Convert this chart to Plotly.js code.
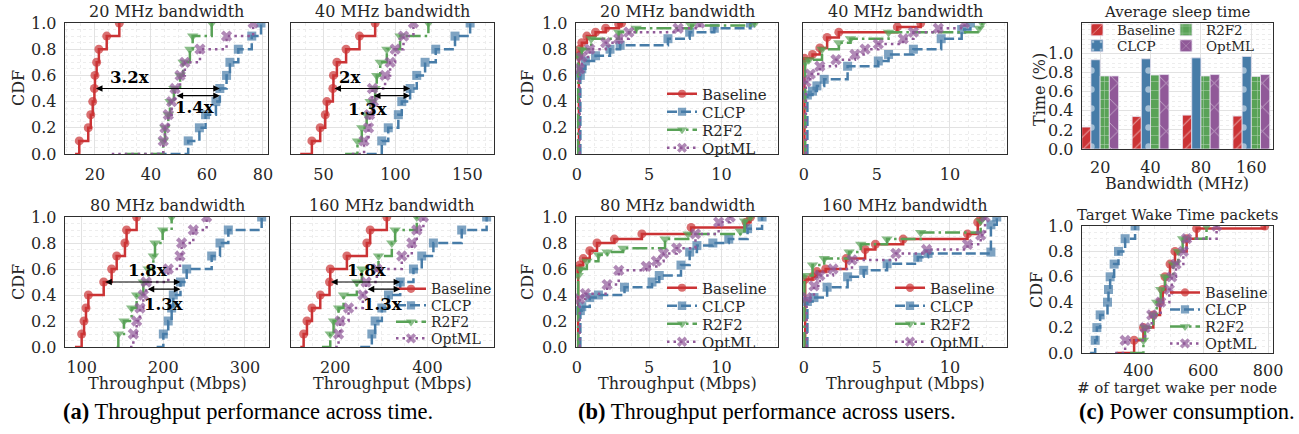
<!DOCTYPE html>
<html><head><meta charset="utf-8">
<script src="https://cdn.plot.ly/plotly-3.0.1.min.js"></script>
<style>html,body{margin:0;padding:0;background:#fff}#chart{width:1299px;height:434px}</style>
</head><body><div id="chart"></div><script>
// ---------- data ----------
const methods = ['Baseline', 'CLCP', 'R2F2', 'OptML'];
const cdfLevels = [0, 0.1, 0.2, 0.3, 0.4, 0.5, 0.6, 0.7, 0.8, 0.9, 1.0];

// (a) throughput across time (Mbps) at each CDF level
const a20Baseline = [12.9, 14.4, 17.6, 18.5, 19.2, 19.8, 20.0, 20.6, 21.4, 24.2, 28.7];
const a20CLCP     = [42.0, 53.3, 57.3, 59.5, 63.2, 64.6, 67.0, 68.2, 71.2, 76.0, 79.3];
const a20R2F2     = [30.7, 44.4, 45.0, 46.2, 46.8, 48.2, 50.4, 51.5, 53.9, 54.9, 61.7];
const a20OptML    = [26.0, 44.4, 45.0, 46.2, 47.4, 48.6, 50.4, 52.1, 57.5, 67.0, 76.5];

const a40Baseline = [33.8, 41.9, 47.7, 51.2, 52.3, 56.5, 56.9, 59.3, 65.7, 75.0, 85.9];
const a40CLCP     = [80.0, 90.5, 95.0, 102.0, 104.4, 110.2, 114.8, 120.6, 128.0, 141.4, 151.9];
const a40R2F2     = [65.0, 73.6, 76.6, 80.0, 82.4, 85.9, 87.0, 89.4, 94.0, 103.2, 122.9];
const a40OptML    = [69.7, 78.2, 81.3, 82.0, 84.7, 84.0, 92.8, 96.3, 99.8, 105.6, 112.5];

const a80Baseline = [91.8, 100.0, 102.9, 105.3, 108.2, 127.0, 136.7, 142.9, 153.0, 155.0, 167.3];
const a80CLCP     = [191.8, 200.0, 206.0, 210.2, 212.2, 221.0, 228.6, 259.2, 269.4, 279.6, 320.4];
const a80R2F2     = [142.9, 144.9, 151.8, 161.2, 167.3, 175.5, 181.6, 187.8, 189.8, 199.2, 210.2];
const a80OptML    = [159.2, 163.3, 167.3, 171.4, 175.5, 179.0, 206.1, 220.4, 222.4, 236.7, 253.0];

const a160Baseline = [124.2, 131.4, 138.6, 149.5, 167.5, 187.6, 189.2, 225.3, 268.6, 275.8, 311.9];
const a160CLCP     = [254.2, 279.4, 286.6, 301.1, 315.5, 341.0, 369.7, 387.7, 413.0, 474.4, 528.5];
const a160R2F2     = [171.1, 189.2, 196.4, 207.2, 218.1, 246.9, 257.8, 293.9, 322.7, 330.0, 376.9];
const a160OptML    = [200.0, 207.2, 210.8, 228.9, 259.9, 267.0, 290.3, 344.4, 366.1, 376.9, 391.3];

// (b) throughput across users (Mbps): x values and CDF values
const b20BaselineX = [0.15, 0.15, 0.2, 0.35, 0.7, 1.3, 2.0, 2.9, 3.1];
const b20BaselineY = [0, 0.75, 0.8, 0.85, 0.9, 0.93, 0.96, 0.99, 1.0];
const b20CLCPX = [0.25, 0.25, 0.35, 0.6, 1.3, 2.3, 3.0, 6.3, 7.8, 9.5, 12.0];
const b20CLCPY = [0, 0.6, 0.65, 0.71, 0.75, 0.8, 0.83, 0.88, 0.93, 0.96, 1.0];
const b20R2F2X = [0.1, 0.1, 0.35, 1.0, 2.9, 4.1, 7.9, 12.3];
const b20R2F2Y = [0, 0.75, 0.8, 0.88, 0.93, 0.96, 0.98, 1.0];
const b20OptMLX = [0.2, 0.2, 0.35, 0.9, 2.0, 2.9, 3.6, 7.0, 8.5];
const b20OptMLY = [0, 0.65, 0.74, 0.8, 0.85, 0.88, 0.93, 0.96, 1.0];

const b40BaselineX = [0.05, 0.05, 0.6, 1.1, 1.6, 2.4, 6.4, 8.0];
const b40BaselineY = [0, 0.73, 0.76, 0.81, 0.89, 0.93, 0.97, 1.0];
const b40CLCPX = [0.25, 0.25, 0.6, 0.9, 1.4, 3.0, 5.1, 5.8, 7.5, 9.4, 10.8, 11.4];
const b40CLCPY = [0, 0.45, 0.48, 0.52, 0.57, 0.67, 0.71, 0.76, 0.8, 0.88, 0.95, 1.0];
const b40R2F2X = [0.1, 0.1, 0.35, 1.25, 2.4, 3.2, 5.8, 12.0, 12.2];
const b40R2F2Y = [0, 0.7, 0.72, 0.8, 0.85, 0.88, 0.93, 0.96, 1.0];
const b40OptMLX = [0.15, 0.15, 0.45, 1.1, 2.2, 3.5, 4.2, 5.1, 6.8, 7.5, 9.2, 11.0];
const b40OptMLY = [0, 0.55, 0.61, 0.67, 0.72, 0.76, 0.8, 0.84, 0.88, 0.93, 0.96, 1.0];

const b80BaselineX = [0.1, 0.1, 0.2, 0.45, 0.9, 1.4, 2.6, 4.5, 7.9, 11.7, 12.0];
const b80BaselineY = [0, 0.6, 0.63, 0.68, 0.74, 0.8, 0.83, 0.87, 0.92, 0.96, 1.0];
const b80CLCPX = [0.25, 0.25, 0.35, 0.9, 1.5, 3.3, 5.2, 5.7, 7.2, 7.8, 8.3, 9.4, 10.5, 11.8, 12.8];
const b80CLCPY = [0, 0.28, 0.31, 0.38, 0.4, 0.46, 0.5, 0.55, 0.63, 0.73, 0.78, 0.8, 0.83, 0.91, 1.0];
const b80R2F2X = [0.1, 0.1, 0.25, 0.7, 1.5, 2.1, 3.2, 6.1, 7.7, 11.3, 11.6, 12.0];
const b80R2F2Y = [0, 0.55, 0.6, 0.66, 0.71, 0.73, 0.76, 0.83, 0.87, 0.89, 0.97, 1.0];
const b80OptMLX = [0.2, 0.2, 0.6, 2.1, 2.9, 4.8, 5.5, 6.0, 6.9, 8.2, 9.8, 10.6];
const b80OptMLY = [0, 0.37, 0.41, 0.48, 0.59, 0.62, 0.66, 0.72, 0.76, 0.87, 0.96, 1.0];

const b160BaselineX = [0.1, 0.1, 0.6, 0.9, 1.5, 2.9, 4.2, 4.9, 6.8, 11.2, 11.9, 12.1];
const b160BaselineY = [0, 0.52, 0.54, 0.58, 0.6, 0.68, 0.75, 0.79, 0.83, 0.87, 0.96, 1.0];
const b160CLCPX = [0.25, 0.25, 0.7, 1.6, 3.0, 4.1, 5.7, 7.8, 8.5, 12.8, 12.8, 13.2];
const b160CLCPY = [0, 0.35, 0.38, 0.46, 0.54, 0.59, 0.64, 0.69, 0.72, 0.73, 0.94, 1.0];
const b160R2F2X = [0.05, 0.05, 0.6, 1.4, 3.1, 3.9, 5.7, 8.0, 12.1, 12.3];
const b160R2F2Y = [0, 0.55, 0.63, 0.68, 0.73, 0.79, 0.83, 0.88, 0.97, 1.0];
const b160OptMLX = [0.2, 0.2, 0.7, 1.1, 2.0, 3.3, 6.3, 8.4, 11.2, 12.1, 12.4];
const b160OptMLY = [0, 0.38, 0.47, 0.55, 0.6, 0.67, 0.72, 0.75, 0.79, 0.86, 1.0];

// (c) average sleep time per bandwidth
const bandwidths = ['20', '40', '80', '160'];
const sleepBaseline = [0.23, 0.34, 0.355, 0.345];
const sleepCLCP     = [0.935, 0.945, 0.955, 0.97];
const sleepR2F2     = [0.765, 0.775, 0.765, 0.76];
const sleepOptML    = [0.765, 0.78, 0.78, 0.78];

// (c) target wake time packets per node
const twtBaselineX = [333, 386.7, 415.4, 446, 466.7, 474.9, 482, 497.4, 512.8, 548.7, 579.5, 789.7];
const twtBaselineY = [0, 0.1, 0.2, 0.3, 0.4, 0.5, 0.6, 0.7, 0.8, 0.9, 0.98, 1.0];
const twtCLCP  = [251, 266.7, 271.8, 282, 304.6, 307.7, 312.8, 325.1, 338.5, 359, 389.7];
const twtR2F2  = [374.4, 415.4, 420.5, 446, 456.4, 468.7, 482, 507.7, 523, 536.4, 610];
const twtOptML = [328.2, 359, 420.5, 441, 468.7, 495.4, 502.6, 515.9, 538.5, 548.7, 641];

// gain labels for (a)
const gainTop = ['3.2x', '2x', '1.8x', '1.8x'];
const gainBottom = ['1.4x', '1.3x', '1.3x', '1.3x'];

// ---------- style ----------
const W = 1299, H = 434;
const FONT = 'DejaVu Serif';
const TXT = '#262626';
const colors = ['#cb3335', '#477ca8', '#59a257', '#905998'];
const symbols = ['circle', 'square', 'triangle-down', 'x'];
const dashes = ['solid', '10px,4px', '15px,4px,2.5px,4px', '2.5px,4px'];
const msize = [9, 9, 10, 10];

function xDom(a, b) { return [a / W, b / W]; }
function yDom(t, b) { return [1 - b / H, 1 - t / H]; }

// legends: one legend per entry so rows can sit as tightly as in the reference
const layoutLegends = {};
let legendCount = 0;
function newLegend(textLeftPx, midPx, size) {
  legendCount += 1;
  const id = legendCount === 1 ? 'legend' : 'legend' + legendCount;
  layoutLegends[id] = {
    x: (textLeftPx - 40) / W, y: 1 - midPx / H, xanchor: 'left', yanchor: 'middle',
    bgcolor: 'rgba(255,255,255,0)', borderwidth: 0, font: { family: FONT, size: size, color: TXT },
    itemwidth: 30, tracegroupgap: 0
  };
  return id;
}
function rows(center, gap) { return [-1.5, -0.5, 0.5, 1.5].map(f => center + f * gap); }

const traces = [];
function cdfTrace(k, mi, x, y, legendId) {
  const s = k === 1 ? '' : k;
  return {
    type: 'scatter', mode: 'lines+markers', name: methods[mi],
    x: x, y: y, xaxis: 'x' + s, yaxis: 'y' + s,
    line: { shape: 'hv', color: colors[mi], width: 2.5, dash: dashes[mi] },
    marker: { symbol: symbols[mi], color: colors[mi], size: x.map((v, i) => i === 0 ? 0 : msize[mi]), line: { width: 0 } },
    showlegend: !!legendId, legend: legendId || 'legend'
  };
}

const aSets = [
  [a20Baseline, a20CLCP, a20R2F2, a20OptML],
  [a40Baseline, a40CLCP, a40R2F2, a40OptML],
  [a80Baseline, a80CLCP, a80R2F2, a80OptML],
  [a160Baseline, a160CLCP, a160R2F2, a160OptML]
];
const aLegendRows = rows(314, 16.5);
aSets.forEach((set, p) => {
  set.forEach((vals, mi) => {
    const lid = p === 3 ? newLegend(431, aLegendRows[mi], 14) : null;
    traces.push(cdfTrace(p + 1, mi, vals, cdfLevels, lid));
  });
});

const bSets = [
  [[b20BaselineX, b20BaselineY], [b20CLCPX, b20CLCPY], [b20R2F2X, b20R2F2Y], [b20OptMLX, b20OptMLY]],
  [[b40BaselineX, b40BaselineY], [b40CLCPX, b40CLCPY], [b40R2F2X, b40R2F2Y], [b40OptMLX, b40OptMLY]],
  [[b80BaselineX, b80BaselineY], [b80CLCPX, b80CLCPY], [b80R2F2X, b80R2F2Y], [b80OptMLX, b80OptMLY]],
  [[b160BaselineX, b160BaselineY], [b160CLCPX, b160CLCPY], [b160R2F2X, b160R2F2Y], [b160OptMLX, b160OptMLY]]
];
const bLegendPos = [
  { left: 702, rows: rows(121, 18) },
  null,
  { left: 702, rows: rows(315, 18) },
  { left: 930, rows: rows(315, 18) }
];
bSets.forEach((set, p) => {
  set.forEach((xy, mi) => {
    const lp = bLegendPos[p];
    const lid = lp ? newLegend(lp.left, lp.rows[mi], 15) : null;
    traces.push(cdfTrace(p + 5, mi, xy[0], xy[1], lid));
  });
});

// bars
const sleepSets = [sleepBaseline, sleepCLCP, sleepR2F2, sleepOptML];
const patShapes = ['/', '.', '+', 'x'];
const patSizes = [9, 19, 9, 17];
const patSolid = [0.12, 0.09, 0.12, 0.1];
const barLegendPos = [[1117, 30], [1117, 46], [1206, 30], [1206, 46]];
sleepSets.forEach((vals, mi) => {
  traces.push({
    type: 'bar', name: methods[mi], x: bandwidths, y: vals, xaxis: 'x9', yaxis: 'y9',
    marker: { color: colors[mi], line: { color: '#e6e0ee', width: 0.8 },
      pattern: { shape: patShapes[mi], fgcolor: '#ffffff', bgcolor: colors[mi], size: patSizes[mi], solidity: patSolid[mi], fillmode: 'overlay' } },
    legend: newLegend(barLegendPos[mi][0], barLegendPos[mi][1], 13.5), showlegend: true
  });
});

// twt cdf
const twtSets = [[twtBaselineX, twtBaselineY], [twtCLCP, cdfLevels], [twtR2F2, cdfLevels], [twtOptML, cdfLevels]];
const twtLegendRows = rows(318, 17);
twtSets.forEach((xy, mi) => traces.push(cdfTrace(10, mi, xy[0], xy[1], newLegend(1205, twtLegendRows[mi], 14.5))));

// ---------- axes ----------
const layout = Object.assign({
  width: W, height: H, margin: { l: 0, r: 0, t: 0, b: 0 },
  paper_bgcolor: '#fff', plot_bgcolor: '#fff', showlegend: true,
  font: { family: FONT, color: TXT, size: 16 },
  bargap: 0.27, bargroupgap: 0,
  annotations: []
}, layoutLegends);

const panels = [
  { k: 1, xd: [65, 268], yd: [23, 154], xr: [9.3, 81.8], xt: [20, 40, 60, 80], xm: 5, yl: true },
  { k: 2, xd: [291, 494], yd: [23, 154], xr: [27.4, 168.5], xt: [50, 100, 150], xm: 12.5, yl: false },
  { k: 3, xd: [65, 269], yd: [217, 347], xr: [79.6, 329.4], xt: [100, 200, 300], xm: 25, yl: true },
  { k: 4, xd: [291, 494], yd: [217, 347], xr: [104, 544.5], xt: [200, 400], xm: 50, yl: false },
  { k: 5, xd: [576, 778], yd: [23, 154], xr: [-0.05, 13.9], xt: [0, 5, 10], xm: 1.25, yl: true },
  { k: 6, xd: [803, 1007], yd: [23, 154], xr: [-0.05, 13.9], xt: [0, 5, 10], xm: 1.25, yl: false },
  { k: 7, xd: [576, 778], yd: [217, 347], xr: [-0.05, 13.9], xt: [0, 5, 10], xm: 1.25, yl: true },
  { k: 8, xd: [803, 1007], yd: [217, 347], xr: [-0.05, 13.9], xt: [0, 5, 10], xm: 1.25, yl: false },
  { k: 10, xd: [1082, 1273], yd: [226, 353], xr: [226, 815], xt: [400, 600, 800], xm: 50, yl: true, xs: 2 }
];
const gridCol = '#e2e2e2', minorCol = '#ededed', frameCol = '#2e2e2e';
function baseAxis() {
  return {
    showline: true, mirror: true, linecolor: frameCol, linewidth: 1.3, zeroline: false,
    ticks: '', showgrid: true, gridcolor: gridCol, gridwidth: 1,
    tickfont: { family: FONT, size: 16, color: TXT }, fixedrange: true
  };
}
const yTicks = [0, 0.2, 0.4, 0.6, 0.8, 1.0];
panels.forEach(p => {
  const sx = p.k === 1 ? '' : p.k;
  layout['xaxis' + sx] = Object.assign(baseAxis(), {
    domain: xDom(p.xd[0], p.xd[1]), range: p.xr, tickvals: p.xt, anchor: 'y' + sx,
    ticklabelstandoff: p.xs !== undefined ? p.xs : 5,
    minor: { dtick: p.xm, tick0: 0, showgrid: true, gridcolor: minorCol, griddash: 'dot', gridwidth: 1 }
  });
  layout['yaxis' + sx] = Object.assign(baseAxis(), {
    domain: yDom(p.yd[0], p.yd[1]), range: [0, 1], tickvals: yTicks, tickformat: '.1f',
    showticklabels: p.yl, anchor: 'x' + sx, ticklabelstandoff: 4,
    minor: { dtick: 0.05, tick0: 0, showgrid: true, gridcolor: minorCol, griddash: 'dot', gridwidth: 1 }
  });
});
layout.xaxis9 = Object.assign(baseAxis(), {
  type: 'category', domain: xDom(1082, 1273), range: [-0.36, 3.43], anchor: 'y9', ticklabelstandoff: 3
});
layout.yaxis9 = Object.assign(baseAxis(), {
  domain: yDom(23, 149), range: [0, 1.32], tickvals: yTicks, tickformat: '.1f', anchor: 'x9', ticklabelstandoff: 4,
  minor: { dtick: 0.05, tick0: 0, showgrid: true, gridcolor: minorCol, griddash: 'dot', gridwidth: 1 }
});

// ---------- annotations ----------
const A = layout.annotations;
function paperText(text, xpx, ypx, size, extra) {
  A.push(Object.assign({ xref: 'paper', yref: 'paper', x: xpx / W, y: 1 - ypx / H, text: text, showarrow: false,
    xanchor: 'center', yanchor: 'middle', font: { family: FONT, size: size, color: TXT } }, extra || {}));
}
// subplot titles
paperText('20 MHz bandwidth', 166.5, 12, 16);
paperText('40 MHz bandwidth', 392.5, 12, 16);
paperText('80 MHz bandwidth', 167, 205, 16);
paperText('160 MHz bandwidth', 392.5, 205, 16);
paperText('20 MHz bandwidth', 677, 12, 16);
paperText('40 MHz bandwidth', 905, 12, 16);
paperText('80 MHz bandwidth', 677, 205, 16);
paperText('160 MHz bandwidth', 905, 205, 16);
paperText('Average sleep time', 1177, 12, 15);
paperText('Target Wake Time packets', 1177, 215, 15);
// axis titles
paperText('CDF', 18, 88, 16, { textangle: -90 });
paperText('CDF', 18, 282, 16, { textangle: -90 });
paperText('CDF', 527, 88, 16, { textangle: -90 });
paperText('CDF', 527, 282, 16, { textangle: -90 });
paperText('CDF', 1036, 290, 16, { textangle: -90 });
paperText('Time (%)', 1039, 90, 16, { textangle: -90 });
paperText('Throughput (Mbps)', 167, 383, 16);
paperText('Throughput (Mbps)', 392.5, 383, 16);
paperText('Throughput (Mbps)', 677, 383, 16);
paperText('Throughput (Mbps)', 905, 383, 16);
paperText('Bandwidth (MHz)', 1177, 184, 16);
paperText('# of target wake per node', 1177, 388, 15);
// captions
const capFont = { family: 'Liberation Serif', size: 22.5, color: '#000' };
paperText('<b>(a)</b> Throughput performance across time.', 248, 411, 22.5, { font: capFont });
paperText('<b>(b)</b> Throughput performance across users.', 767, 411, 22.5, { font: capFont });
paperText('<b>(c)</b> Power consumption.', 1187, 411, 22.5, { font: capFont });

// gain arrows in (a): baseline and OptML medians to the CLCP median
const mid = cdfLevels.indexOf(0.5);
const labelPos = [
  [[32.5, 0.585], [55.4, 0.355]],
  [[67.8, 0.585], [80.5, 0.34]],
  [[180.5, 0.59], [200.7, 0.33]],
  [[267, 0.59], [302, 0.33]]
];
aSets.forEach((set, p) => {
  const ax = p === 0 ? 'x' : 'x' + (p + 1), ay = p === 0 ? 'y' : 'y' + (p + 1);
  const arrow = { xref: ax, yref: ay, axref: ax, ayref: ay, showarrow: true, arrowside: 'end+start',
    arrowhead: 2, arrowsize: 1.1, arrowwidth: 1.2, arrowcolor: '#000', text: '', standoff: 0, startstandoff: 0 };
  A.push(Object.assign({}, arrow, { x: set[1][mid], y: 0.5, ax: set[0][mid], ay: 0.5 }));
  A.push(Object.assign({}, arrow, { x: set[1][mid], y: 0.445, ax: set[3][mid], ay: 0.445 }));
  A.push({ xref: ax, yref: ay, x: labelPos[p][0][0], y: labelPos[p][0][1], text: '<b>' + gainTop[p] + '</b>', showarrow: false,
    font: { family: FONT, size: 16.5, color: '#000' } });
  A.push({ xref: ax, yref: ay, x: labelPos[p][1][0], y: labelPos[p][1][1], text: '<b>' + gainBottom[p] + '</b>', showarrow: false,
    font: { family: FONT, size: 16.5, color: '#000' } });
});

Plotly.newPlot('chart', traces, layout, { staticPlot: true, displayModeBar: false });
</script></body></html>
